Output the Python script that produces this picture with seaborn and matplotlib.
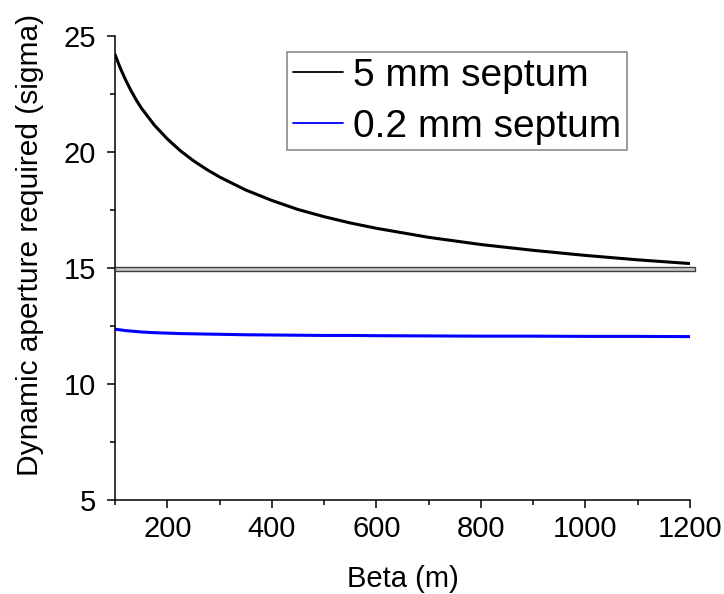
import numpy as np
import pandas as pd
import seaborn as sns
import matplotlib
matplotlib.use('Agg')
from matplotlib import pyplot as plt
from matplotlib.patches import Rectangle
from matplotlib.lines import Line2D
from matplotlib.ticker import MultipleLocator

# beta 取样点 (m)
beta = [100, 110, 120, 130, 140, 150, 175, 200, 225, 250, 275, 300, 350, 400, 450,
        500, 550, 600, 700, 800, 900, 1000, 1100, 1200]
# 5 mm septum
da_5mm = [24.2, 23.62, 23.12, 22.67, 22.27, 21.91, 21.17, 20.57, 20.06, 19.63, 19.26, 18.93, 18.37,
          17.92, 17.53, 17.22, 16.95, 16.72, 16.33, 16.02, 15.77, 15.55, 15.36, 15.2]
# 0.2 mm septum
da_02mm = [12.37, 12.34, 12.31, 12.29, 12.27, 12.25, 12.22, 12.2, 12.18, 12.17, 12.16, 12.15,
           12.13, 12.12, 12.11, 12.1, 12.1, 12.09, 12.08, 12.07, 12.07, 12.06, 12.06, 12.05]
labels = ['5 mm septum', '0.2 mm septum']

sns.set_style("ticks")
plt.rcParams['font.family'] = ['Liberation Sans', 'DejaVu Sans']
# 文字全部用纯黑
for k in ['text.color', 'axes.labelcolor', 'xtick.color', 'ytick.color']:
    plt.rcParams[k] = 'black'

df = pd.DataFrame({
    'beta': beta * 2,
    'da': da_5mm + da_02mm,
    'case': [labels[0]] * len(beta) + [labels[1]] * len(beta),
})

fig = plt.figure(figsize=(7.24, 5.94), dpi=100)
ax = fig.add_axes([0.159, 0.158, 0.794, 0.781])
sns.lineplot(data=df, x='beta', y='da', hue='case', palette=['black', '#0000ff'],
             linewidth=2.2, ax=ax, legend=False)

# 15 sigma 的灰色横条
ax.add_patch(Rectangle((100, 14.9), 1110, 0.17, facecolor='#c8c8c8',
                       edgecolor='#404040', linewidth=1.0, clip_on=False, zorder=3))

ax.set_xlim(100, 1200)
ax.set_ylim(5, 25)
ax.xaxis.set_major_locator(MultipleLocator(200))
ax.xaxis.set_minor_locator(MultipleLocator(100))
ax.yaxis.set_major_locator(MultipleLocator(5))
ax.yaxis.set_minor_locator(MultipleLocator(2.5))
ax.tick_params(which='major', direction='out', length=6, width=1.1, labelsize=21, color='black')
ax.tick_params(which='minor', direction='out', length=3.5, width=1.1, color='black')
ax.tick_params(axis='x', pad=5)
ax.tick_params(axis='y', pad=7.5)
sns.despine(ax=ax)
for s in ['left', 'bottom']:
    ax.spines[s].set_linewidth(1.1)
    ax.spines[s].set_color('black')

ax.set_xlabel('Beta (m)', fontsize=21)
ax.set_ylabel('Dynamic aperture required (sigma)', fontsize=21.5)
ax.xaxis.set_label_coords(0.5, -0.14)
ax.yaxis.set_label_coords(-0.124, 0.55)

handles = [Line2D([], [], color='black', lw=1.3), Line2D([], [], color='#0000ff', lw=1.3)]
leg = ax.legend(handles, labels, loc='upper left', bbox_to_anchor=(0.299, 0.966),
                fontsize=28, frameon=True, fancybox=False, handlelength=1.3,
                handletextpad=0.25, borderpad=0.15, labelspacing=0.38, borderaxespad=0)
leg.get_frame().set_edgecolor('#707070')
leg.get_frame().set_linewidth(1.2)

plt.savefig('out.png', dpi=100)
